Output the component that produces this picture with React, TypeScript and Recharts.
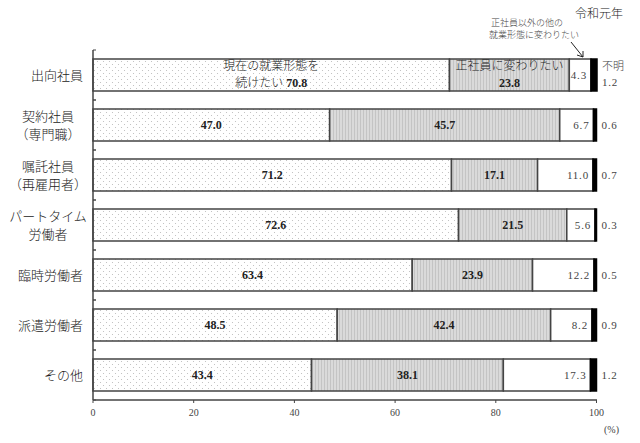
import React from 'react';
import { BarChart, Bar, XAxis, YAxis, LabelList } from 'recharts';

const categories = ['出向社員', '契約社員\n（専門職）', '嘱託社員\n（再雇用者）', 'パートタイム\n労働者', '臨時労働者', '派遣労働者', 'その他'];
const keepCurrent = [70.8, 47.0, 71.2, 72.6, 63.4, 48.5, 43.4];
const toRegular = [23.8, 45.7, 17.1, 21.5, 23.9, 42.4, 38.1];
const toOther = [4.3, 6.7, 11.0, 5.6, 12.2, 8.2, 17.3];
const unknown = [1.2, 0.6, 0.7, 0.3, 0.5, 0.9, 1.2];
const xTicks = [0, 20, 40, 60, 80, 100];

const data = categories.map((name, i) => ({
  name,
  keepCurrent: keepCurrent[i],
  toRegular: toRegular[i],
  toOther: toOther[i],
  unknown: unknown[i],
}));

const FONT = "'Liberation Serif', 'Noto Sans CJK JP', serif";
const EDGE = '#444';

const YTick = (props: any) => {
  const { x, y, payload } = props;
  const lines = String(payload.value).split('\n');
  return (
    <g>
      <line x1={x + 8} x2={x + 11} y1={y + 25} y2={y + 25} stroke={EDGE} strokeWidth={1} />
      <line x1={x + 8} x2={x + 11} y1={y - 25} y2={y - 25} stroke={EDGE} strokeWidth={1} />
      {lines.length === 1 ? (
        <text x={x - 2} y={y + 2} textAnchor="end" dominantBaseline="middle" fontSize={13} fontWeight={300} fill="#222" fontFamily={FONT}>
          {lines[0]}
        </text>
      ) : (
        lines.map((l, k) => (
          <text key={k} x={48} y={y + 2 + (k === 0 ? -9 : 9)} textAnchor="middle" dominantBaseline="middle" fontSize={13} fontWeight={300} fill="#222" fontFamily={FONT}>
            {l}
          </text>
        ))
      )}
    </g>
  );
};

const fmt = (v: number) => v.toFixed(1);

const CenterLabel = (topText: string, prefix: string) => (props: any) => {
  const { x, y, width, height, value, index } = props;
  const cx = x + width / 2;
  const cy = y + height / 2;
  if (index === 0) {
    return (
      <g fontFamily={FONT} fill="#222">
        <text x={cx} y={cy - 8} textAnchor="middle" dominantBaseline="middle" fontSize={12} fontWeight={300}>{topText}</text>
        <text x={cx} y={cy + 9} textAnchor="middle" dominantBaseline="middle" fontSize={12}>
          {prefix ? <tspan fontWeight={300}>{prefix}</tspan> : null}
          <tspan fontWeight={600}>{fmt(value)}</tspan>
        </text>
      </g>
    );
  }
  return (
    <text x={cx} y={cy + 1} textAnchor="middle" dominantBaseline="middle" fontSize={12} fontWeight={600} fill="#222" fontFamily={FONT}>
      {fmt(value)}
    </text>
  );
};

const RightLabel = (props: any) => {
  const { x, y, width, height, value } = props;
  return (
    <text x={x + width - 4} y={y + height / 2 + 1} textAnchor="end" dominantBaseline="middle" fontSize={11} fill="#444" letterSpacing={0.8} fontFamily={FONT}>
      {fmt(value)}
    </text>
  );
};

const OutsideLabel = (props: any) => {
  const { x, y, width, height, value, index } = props;
  const lx = x + width + 5;
  const cy = y + height / 2;
  if (index === 0) {
    return (
      <g fontFamily={FONT} fill="#444" fontSize={11}>
        <text x={lx} y={cy - 8} dominantBaseline="middle" fontWeight={300}>不明</text>
        <text x={lx} y={cy + 8} dominantBaseline="middle" letterSpacing={0.8}>{fmt(value)}</text>
      </g>
    );
  }
  return (
    <text x={lx} y={cy + 1} dominantBaseline="middle" fontSize={11} fill="#444" letterSpacing={0.8} fontFamily={FONT}>
      {fmt(value)}
    </text>
  );
};

export default function App() {
  return (
    <div style={{ position: 'absolute', left: 0, top: 0, width: 640, height: 443, background: '#fff' }}>
      <svg width={0} height={0} style={{ position: 'absolute' }}>
        <defs>
          <pattern id="dots" width="6" height="6" patternUnits="userSpaceOnUse">
            <rect width="6" height="6" fill="#fff" />
            <circle cx="1.5" cy="1.5" r="0.55" fill="#b8b8b8" />
            <circle cx="4.5" cy="4.5" r="0.55" fill="#b8b8b8" />
          </pattern>
          <pattern id="vlines" width="3" height="6" patternUnits="userSpaceOnUse">
            <rect width="3" height="6" fill="#dadada" />
            <rect x="0" width="1" height="6" fill="#c4c4c4" />
          </pattern>
        </defs>
      </svg>
      <BarChart
        width={640}
        height={443}
        data={data}
        layout="vertical"
        margin={{ top: 50, right: 43, bottom: 18, left: 5 }}
        barSize={32}
      >
        <XAxis
          type="number"
          domain={[0, 100]}
          ticks={xTicks}
          tickSize={3}
          axisLine={{ stroke: EDGE, strokeWidth: 1.5 }}
          tickLine={{ stroke: EDGE }}
          tick={{ fontSize: 10, fill: '#444', fontFamily: FONT }}
          tickMargin={6}
          height={25}
          interval={0}
        />
        <YAxis
          type="category"
          dataKey="name"
          width={88}
          axisLine={{ stroke: EDGE, strokeWidth: 1.5 }}
          tickLine={false}
          tick={<YTick />}
          interval={0}
        />
        <Bar dataKey="keepCurrent" stackId="a" fill="url(#dots)" stroke={EDGE} strokeWidth={1.5} isAnimationActive={false}>
          <LabelList dataKey="keepCurrent" content={CenterLabel('現在の就業形態を', '続けたい ')} />
        </Bar>
        <Bar dataKey="toRegular" stackId="a" fill="url(#vlines)" stroke={EDGE} strokeWidth={1.5} isAnimationActive={false}>
          <LabelList dataKey="toRegular" content={CenterLabel('正社員に変わりたい', '')} />
        </Bar>
        <Bar dataKey="toOther" stackId="a" fill="#fff" stroke={EDGE} strokeWidth={1.5} isAnimationActive={false}>
          <LabelList dataKey="toOther" content={RightLabel} />
        </Bar>
        <Bar dataKey="unknown" stackId="a" fill="#000" stroke="#000" strokeWidth={1.5} isAnimationActive={false}>
          <LabelList dataKey="unknown" content={OutsideLabel} />
        </Bar>
      </BarChart>
      <svg width={640} height={443} style={{ position: 'absolute', left: 0, top: 0, pointerEvents: 'none' }}>
        <g fontFamily={FONT}>
          <text x={575} y={18} fontSize={12} fontWeight={300} fill="#222">令和元年</text>
          <text x={491} y={26} fontSize={9} fontWeight={300} fill="#444">正社員以外の他の</text>
          <text x={489} y={38} fontSize={9} fontWeight={300} fill="#444">就業形態に変わりたい</text>
          <line x1={571} y1={42} x2={583} y2={57} stroke="#222" strokeWidth={1} />
          <path d="M577,55 L583,57 L583,51" fill="none" stroke="#222" strokeWidth={1} />
          <text x={604} y={433} fontSize={10} fill="#444">(%)</text>
        </g>
      </svg>
    </div>
  );
}
